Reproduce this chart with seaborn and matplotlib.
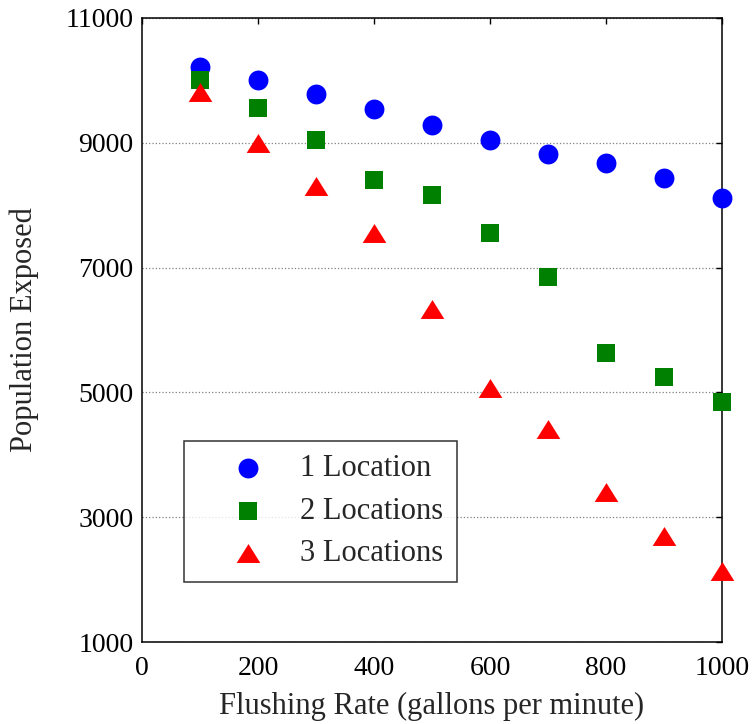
import numpy as np
import pandas as pd
import matplotlib
matplotlib.use('Agg')
import matplotlib.pyplot as plt
import seaborn as sns

# dados
flow_rate = [100, 200, 300, 400, 500, 600, 700, 800, 900, 1000]
one_location = [10210, 10000, 9780, 9540, 9280, 9040, 8820, 8680, 8430, 8110]
two_locations = [10000, 9550, 9040, 8400, 8160, 7560, 6850, 5630, 5250, 4850]
three_locations = [9820, 8990, 8300, 7550, 6330, 5070, 4420, 3400, 2700, 2130]

series_names = ['1 Location', '2 Locations', '3 Locations']
x_ticks = [0, 200, 400, 600, 800, 1000]
y_ticks = [1000, 3000, 5000, 7000, 9000, 11000]

sns.set_theme(style='white')
plt.rcParams['font.family'] = ['Liberation Serif', 'DejaVu Serif']

df = pd.DataFrame({
    'rate': flow_rate * 3,
    'pop': one_location + two_locations + three_locations,
    'serie': np.repeat(series_names, len(flow_rate)),
})

tri = [(-1, -0.8), (1, -0.8), (0, 0.8), (-1, -0.8)]
estilos = {
    '1 Location': dict(color='#0000ff', marker='o', s=205),
    '2 Locations': dict(color='#008000', marker='s', s=185),
    '3 Locations': dict(color='#ff0000', marker=tri, s=290),
}

fig = plt.figure(figsize=(7.54, 7.24), dpi=100)
ax = fig.add_axes([142 / 754, 1 - 642 / 724, 580 / 754, 624 / 724])

for nome in series_names:
    sub = df[df['serie'] == nome]
    sns.scatterplot(data=sub, x='rate', y='pop', ax=ax, label=nome,
                    linewidth=0, zorder=3, clip_on=False, **estilos[nome])

ax.set_xlim(0, 1000)
ax.set_ylim(1000, 11000)
ax.set_xticks(x_ticks)
ax.set_yticks(y_ticks)
ax.tick_params(axis='both', which='both', direction='in', top=True, right=True,
               length=4, width=1, colors='black', labelsize=20)
ax.tick_params(axis='x', pad=10)
ax.tick_params(axis='y', pad=6)
ax.yaxis.grid(True, color='#808080', linestyle=':', linewidth=0.9)
ax.xaxis.grid(False)
for sp in ax.spines.values():
    sp.set_color('black')
    sp.set_linewidth(1.1)

ax.set_xlabel('Flushing Rate (gallons per minute)', fontsize=22, labelpad=8)
ax.set_ylabel('Population Exposed', fontsize=22, labelpad=19)

leg = ax.legend(loc='lower left', bbox_to_anchor=(0.0724, 0.096), borderaxespad=0,
                fontsize=22, frameon=True, fancybox=False, edgecolor='black',
                handlelength=3.3, handletextpad=0.05, labelspacing=0.44,
                borderpad=0.45, scatterpoints=1)
leg.get_frame().set_linewidth(1.1)

fig.savefig('out.png', dpi=100)
